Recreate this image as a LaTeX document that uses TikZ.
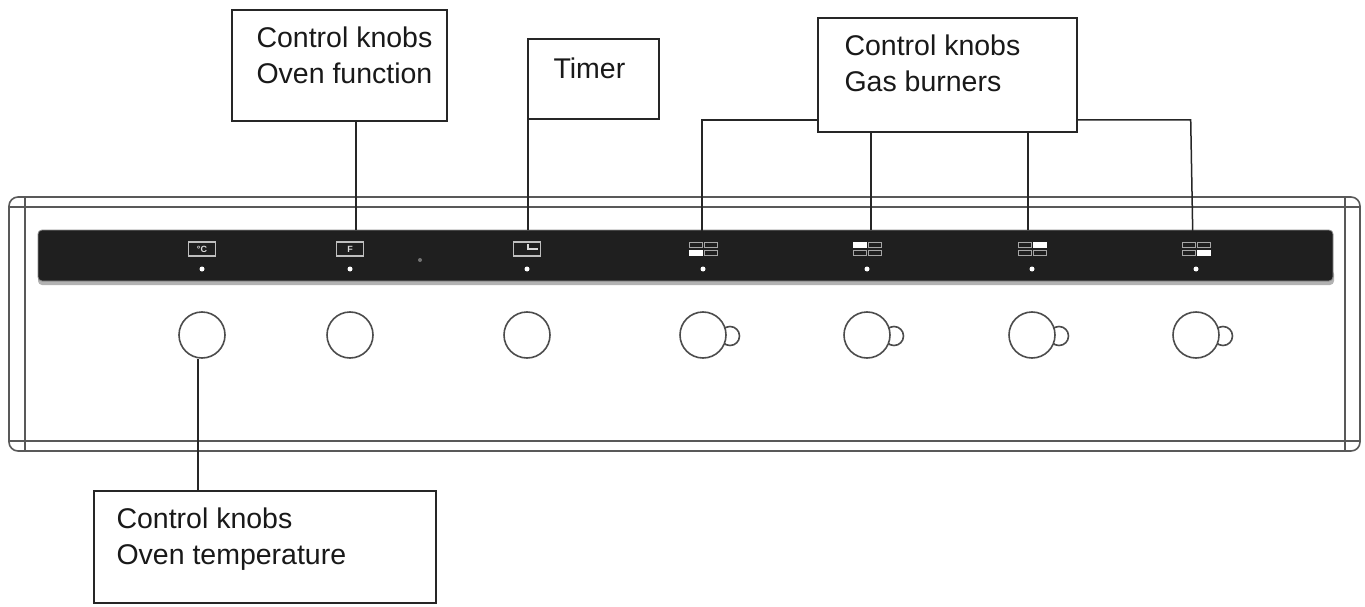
\documentclass[tikz,border=0pt]{standalone}
\usepackage{fontspec}
\setmainfont{Liberation Sans}
\usetikzlibrary{positioning}
\tikzset{
  callout/.style={draw=black!85,line width=1.4pt,fill=white,inner sep=0pt},
  calltext/.style={align=left,inner sep=0pt,font=\fontsize{28.5}{36}\selectfont,text=black!90},
  leader/.style={draw=black!85,line width=1.5pt},
  frameline/.style={draw=black!65,line width=1.6pt},
  knob/.style={circle,draw=black!70,line width=1.6pt,fill=white,minimum size=46pt,inner sep=0pt},
  tab/.style={circle,draw=black!70,line width=1.6pt,fill=white,minimum size=19pt,inner sep=0pt},
  led/.style={circle,fill=white,minimum size=5pt,inner sep=0pt},
  iconbox/.style={draw=black!25,line width=1.3pt,minimum width=27pt,minimum height=14pt,inner sep=0pt,text=black!15,font=\fontsize{9}{9}\selectfont\bfseries},
  cell/.style={draw=black!35,line width=1.1pt,minimum width=12.5pt,minimum height=5.5pt,inner sep=0pt},
  cellon/.style={cell,fill=white,draw=white}
}
\begin{document}
\begin{tikzpicture}[x=1pt,y=-1pt]
  \useasboundingbox (0,0) rectangle (1365,607);
  % cooker front
  \draw[frameline,rounded corners=9pt] (9,197) rectangle (1360,451);
  \draw[frameline] (9,207) -- (1360,207);
  \draw[frameline] (9,441) -- (1360,441);
  \draw[frameline] (25,197) -- (25,451);
  \draw[frameline] (1345,197) -- (1345,451);
  % panel
  \fill[black!30,rounded corners=4pt] (38,270) rectangle (1334,285);
  \node[draw=black!45,line width=.8pt,fill=black!88,rounded corners=4pt,minimum width=1295pt,minimum height=51pt,inner sep=0pt] (panel) at (685.5,255.5) {};
  \node[circle,fill=black!55,minimum size=4pt,inner sep=0pt] (spot) at (420,260) {};
  % oven knobs
  \foreach \x/\name in {202/temp,350/func,527/timer}{
    \node[knob] (knob\name) at (\x,335) {};
    \node[led] (led\name) at (\x,269) {};
  }
  \node[iconbox] (icontemp) at (202,249) {°C};
  \node[iconbox] (iconfunc) at (350,249) {F};
  \node[iconbox] (icontimer) at (527,249) {};
  \draw[draw=black!15,line width=1.2pt] (528,244) -- (528,249) -- (538,249);
  % burner knobs
  \foreach \x/\name/\a/\b/\c/\d in {703/a/cell/cell/cellon/cell,867/b/cellon/cell/cell/cell,1032/c/cell/cellon/cell/cell,1196/d/cell/cell/cell/cellon}{
    \node[tab] (tab\name) at (\x+27,336) {};
    \node[knob] (knob\name) at (\x,335) {};
    \node[led] (led\name) at (\x,269) {};
    \node[\a] (cell\name1) at (\x-7,245) {};
    \node[\b] (cell\name2) at (\x+8,245) {};
    \node[\c] (cell\name3) at (\x-7,253) {};
    \node[\d] (cell\name4) at (\x+8,253) {};
  }
  % boxes
  \node[callout,minimum width=215pt,minimum height=111pt] (boxfunc) at (339.5,65.5) {};
  \node[calltext,below right=17pt and 25pt of boxfunc.north west] (textfunc) {Control knobs\\Oven function};
  \node[callout,minimum width=131pt,minimum height=80pt] (boxtimer) at (593.5,79) {};
  \node[calltext,below right=19pt and 26pt of boxtimer.north west] (texttimer) {Timer};
  \node[callout,minimum width=259pt,minimum height=114pt] (boxgas) at (947.5,75) {};
  \node[calltext,below right=17pt and 27pt of boxgas.north west] (textgas) {Control knobs\\Gas burners};
  \node[callout,minimum width=342pt,minimum height=112pt] (boxtemp) at (265,547) {};
  \node[calltext,below right=17pt and 23pt of boxtemp.north west] (texttemp) {Control knobs\\Oven temperature};
  % leaders
  \draw[leader] ([xshift=16.5pt]boxfunc.south) -- ([xshift=16.5pt]boxfunc.south |- panel.north);
  \draw[leader] ([xshift=.5pt]boxtimer.south west) -- ([xshift=.5pt]boxtimer.south west |- panel.north);
  \draw[leader] ([yshift=-45pt]boxgas.west) -- ++(-115.5,0) -- ++(0,111);
  \draw[leader] ([xshift=-76.5pt]boxgas.south) -- ([xshift=-76.5pt]boxgas.south |- panel.north);
  \draw[leader] ([xshift=80.5pt]boxgas.south) -- ([xshift=80.5pt]boxgas.south |- panel.north);
  \draw[leader] ([yshift=-45pt]boxgas.east) -- ++(113,0) -- ++(2,111);
  \draw[leader] ([xshift=-4pt]knobtemp.south) -- ([xshift=-4pt]knobtemp.south |- boxtemp.north);
\end{tikzpicture}
\end{document}
